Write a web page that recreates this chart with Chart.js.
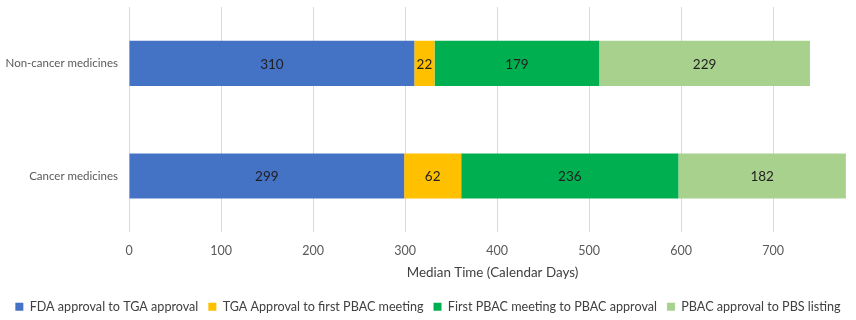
<!DOCTYPE html>
<html>
<head>
<meta charset="utf-8">
<script src="https://cdn.jsdelivr.net/npm/chart.js@4/dist/chart.umd.min.js"></script>
<style>
  html, body { margin: 0; padding: 0; background: #ffffff; }
  #wrap { width: 856px; height: 320px; position: relative; }
</style>
</head>
<body>
<div id="wrap"><canvas id="c" width="856" height="320"></canvas></div>
<script>
const categories = ['Non-cancer medicines', 'Cancer medicines'];
const seriesNames = [
  'FDA approval to TGA approval',
  'TGA Approval to first PBAC meeting',
  'First PBAC meeting to PBAC approval',
  'PBAC approval to PBS listing'
];
const fdaToTga = [310, 299];
const tgaToPbac = [22, 62];
const pbacMeetingToApproval = [179, 236];
const pbacApprovalToPbs = [229, 182];
const xTicks = [0, 100, 200, 300, 400, 500, 600, 700];
const colors = ['#4472C4', '#FFC000', '#00B050', '#A9D18E'];

const FONT = 'Lato, "Liberation Sans", sans-serif';

const seriesValues = [fdaToTga, tgaToPbac, pbacMeetingToApproval, pbacApprovalToPbs];

const valueLabels = {
  id: 'valueLabels',
  afterDatasetsDraw(chart) {
    const ctx = chart.ctx;
    ctx.save();
    ctx.font = '13.5px ' + FONT;
    ctx.fillStyle = '#1f1f1f';
    ctx.textAlign = 'center';
    ctx.textBaseline = 'middle';
    chart.data.datasets.forEach((ds, i) => {
      const meta = chart.getDatasetMeta(i);
      meta.data.forEach((el, j) => {
        const p = el.getCenterPoint();
        ctx.fillText(String(ds.data[j]), p.x, p.y + 1);
      });
    });
    ctx.restore();
  }
};

new Chart(document.getElementById('c'), {
  type: 'bar',
  data: {
    labels: categories,
    datasets: seriesNames.map((name, i) => ({
      label: name,
      data: seriesValues[i],
      backgroundColor: colors[i],
      borderWidth: 0,
      categoryPercentage: 0.5,
      barPercentage: 0.8
    }))
  },
  options: {
    indexAxis: 'y',
    responsive: false,
    animation: false,
    devicePixelRatio: 1,
    layout: { padding: { left: 0, right: 0, top: 7, bottom: -3 } },
    scales: {
      x: {
        stacked: true,
        min: 0,
        max: 790,
        afterBuildTicks(scale) {
          scale.ticks = xTicks.map(v => ({ value: v }));
        },
        afterFit(scale) {
          scale.height = 58;
          scale.paddingLeft = 0;
          scale.paddingRight = 0;
        },
        grid: { color: '#d9d9d9', lineWidth: 1, drawTicks: false },
        border: { display: false },
        ticks: {
          padding: 11,
          color: '#595959',
          font: { family: FONT, size: 12.5 }
        },
        title: {
          display: true,
          text: 'Median Time (Calendar Days)',
          color: '#404040',
          font: { family: FONT, size: 13.4 },
          padding: { top: 0, bottom: 10 }
        }
      },
      y: {
        stacked: true,
        afterFit(scale) {
          scale.width = 129;
          scale.paddingTop = 0;
          scale.paddingBottom = 0;
        },
        grid: { display: false, drawTicks: false },
        border: { display: false },
        ticks: {
          padding: 11,
          color: '#595959',
          font: { family: FONT, size: 11.5 }
        }
      }
    },
    plugins: {
      legend: {
        position: 'bottom',
        labels: {
          boxWidth: 8,
          boxHeight: 8,
          padding: 10,
          color: '#404040',
          font: { family: FONT, size: 12.6 }
        }
      },
      tooltip: { enabled: false }
    }
  },
  plugins: [valueLabels]
});
</script>
</body>
</html>
